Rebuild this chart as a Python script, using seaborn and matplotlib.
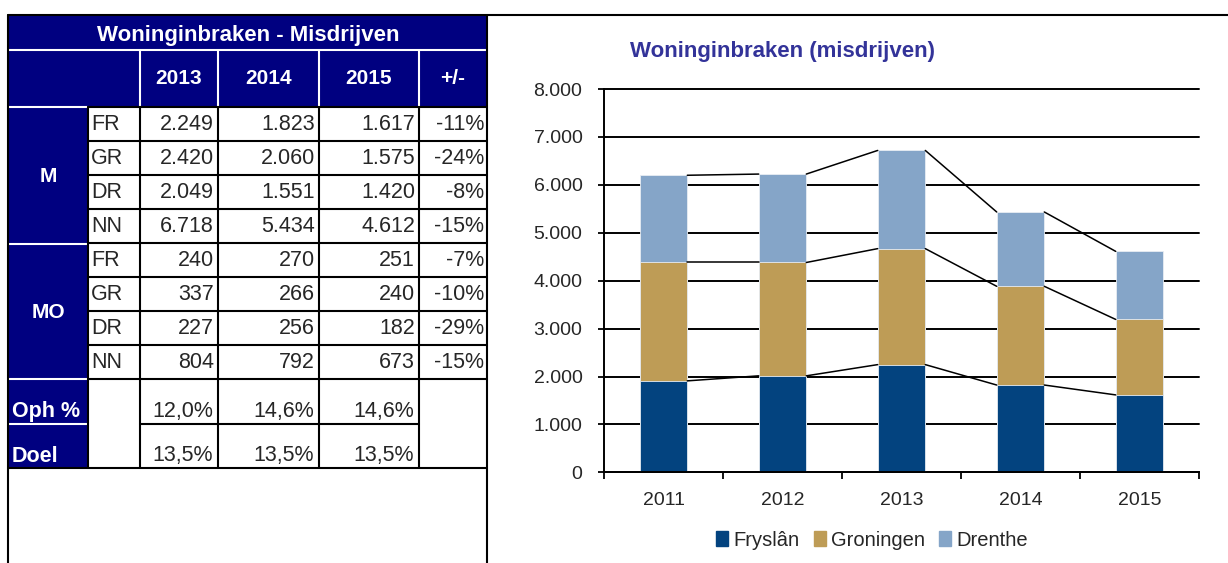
import pandas as pd
import matplotlib
matplotlib.use("Agg")
import matplotlib.pyplot as plt
from matplotlib.patches import Rectangle, Patch
import seaborn as sns

# --- grafiek: woninginbraken per provincie ---
years = ["2011", "2012", "2013", "2014", "2015"]
fryslan = [1910, 2015, 2249, 1823, 1617]
groningen = [2470, 2365, 2420, 2060, 1575]
drenthe = [1820, 1845, 2049, 1551, 1420]
series_names = ["Fryslân", "Groningen", "Drenthe"]

# --- tabel ---
table_title = "Woninginbraken - Misdrijven"
table_years = ["2013", "2014", "2015"]
regions = ["FR", "GR", "DR", "NN"]
m_values = [[2249, 1823, 1617], [2420, 2060, 1575], [2049, 1551, 1420], [6718, 5434, 4612]]
m_change = ["-11%", "-24%", "-8%", "-15%"]
mo_values = [[240, 270, 251], [337, 266, 240], [227, 256, 182], [804, 792, 673]]
mo_change = ["-7%", "-10%", "-29%", "-15%"]
oph = ["12,0%", "14,6%", "14,6%"]
doel = ["13,5%", "13,5%", "13,5%"]

NAVY = "#000080"
C_FR, C_GR, C_DR = "#03437F", "#BE9C56", "#85A5C8"


def nl(n):
    return f"{n:,}".replace(",", ".")


sns.set_theme(style="white")
plt.rcParams["font.family"] = ["Liberation Sans", "DejaVu Sans"]

fig = plt.figure(figsize=(12.28, 5.63), dpi=100)

# 1. TABEL (in pixelcoordinaten)
tab = fig.add_axes([0, 0, 1, 1])
tab.set_xlim(0, 1228)
tab.set_ylim(563, 0)
tab.axis("off")

xs = [8, 88, 140, 218, 319, 419, 487]
ys = [107 + i * 34 for i in range(9)]
lw = 1.5

tab.add_patch(Rectangle((8, 15), 479, 92, color=NAVY, lw=0))
tab.add_patch(Rectangle((8, 107), 80, 361, color=NAVY, lw=0))

# witte lijnen in de kop
tab.plot([8, 487], [50, 50], color="white", lw=lw)
for x in xs[2:6]:
    tab.plot([x, x], [50, 107], color="white", lw=lw)
for y in [107, 244, 379, 424]:
    tab.plot([8, 88], [y, y], color="white", lw=lw)

# zwarte rasterlijnen
for y in ys:
    tab.plot([88, 487], [y, y], color="black", lw=lw)
tab.plot([140, 419], [424, 424], color="black", lw=lw)
tab.plot([8, 487], [468, 468], color="black", lw=lw)
for x in xs[1:6]:
    tab.plot([x, x], [107, 468], color="black", lw=lw)
tab.plot([8, 8], [15, 563], color="black", lw=lw)
tab.plot([487, 487], [15, 563], color="black", lw=lw)
tab.plot([8, 1228], [15, 15], color="black", lw=lw)

fs = 15.5
tab.text(248, 35, table_title, color="white", fontsize=16, weight="bold", ha="center", va="center")
for i, yr in enumerate(table_years):
    tab.text((xs[i + 2] + xs[i + 3]) / 2, 79, yr, color="white", fontsize=15, weight="bold",
             ha="center", va="center")
tab.text((xs[5] + xs[6]) / 2, 79, "+/-", color="white", fontsize=15, weight="bold", ha="center", va="center")

blocks = [(m_values, m_change, "M"), (mo_values, mo_change, "MO")]
for b, (vals, chg, lab) in enumerate(blocks):
    y0 = ys[b * 4]
    tab.text(48, y0 + 69, lab, color="white", fontsize=15, weight="bold", ha="center", va="center")
    for r in range(4):
        yc = y0 + r * 34 + 18
        tab.text(91, yc, regions[r], fontsize=fs, ha="left", va="center")
        for c in range(3):
            tab.text(xs[c + 3] - 4, yc, nl(vals[r][c]), fontsize=fs, ha="right", va="center")
        tab.text(484, yc, chg[r], fontsize=fs, ha="right", va="center")

tab.text(12, 411, "Oph %", color="white", fontsize=15.5, weight="bold", ha="left", va="center")
tab.text(12, 456, "Doel", color="white", fontsize=15.5, weight="bold", ha="left", va="center")
for c in range(3):
    tab.text(xs[c + 3] - 5, 411, oph[c], fontsize=fs, ha="right", va="center")
    tab.text(xs[c + 3] - 5, 456, doel[c], fontsize=fs, ha="right", va="center")

# 2. GESTAPELDE STAAFGRAFIEK
df = pd.DataFrame({"jaar": years, "FR": fryslan, "GR": groningen, "DR": drenthe})
df["c1"] = df["FR"]
df["c2"] = df["FR"] + df["GR"]
df["c3"] = df["c2"] + df["DR"]

ax = fig.add_axes([604 / 1228, (563 - 472.4) / 563, 595 / 1228, 383.4 / 563])
ax.set_axisbelow(True)
for col, colr in [("c3", C_DR), ("c2", C_GR), ("c1", C_FR)]:
    sns.barplot(data=df, x="jaar", y=col, color=colr, width=0.4, saturation=1,
                errorbar=None, edgecolor="#e8edf3", linewidth=0.6, ax=ax)

# verbindingslijnen tussen de staven
for col in ["c1", "c2", "c3"]:
    v = df[col].values
    for i in range(len(v) - 1):
        ax.plot([i + 0.2, i + 0.8], [v[i], v[i + 1]], color="black", lw=1.1, zorder=3)

ax.set_ylim(0, 8000)
ax.set_xlim(-0.5, len(years) - 0.5)
ax.set_yticks(range(0, 8001, 1000))
ax.set_yticklabels([nl(t) for t in range(0, 8001, 1000)], fontsize=14)
ax.set_xticks(range(len(years)))
ax.set_xticklabels(years, fontsize=14)
ax.set_xticks([i - 0.5 for i in range(len(years) + 1)], minor=True)
ax.tick_params(axis="x", which="major", length=0, pad=14)
ax.tick_params(axis="x", which="minor", length=5, width=1.3, color="black", direction="out", bottom=True)
ax.tick_params(axis="y", length=4.5, width=1.3, color="black", direction="out", left=True, pad=11)
ax.yaxis.grid(True, color="black", lw=1.4)
for gl in ax.get_ygridlines():
    gl.set_clip_on(False)
ax.xaxis.grid(False)
ax.set_xlabel("")
ax.set_ylabel("")
for s in ["top", "right"]:
    ax.spines[s].set_visible(False)
for s in ["left", "bottom"]:
    ax.spines[s].set_color("black")
    ax.spines[s].set_linewidth(1.4)

fig.text(783 / 1228, 1 - 52 / 563, "Woninginbraken (misdrijven)", color="#333399",
         fontsize=16, weight="bold", ha="center", va="center")

handles = [Patch(color=c) for c in [C_FR, C_GR, C_DR]]
fig.legend(handles, series_names, loc="center", bbox_to_anchor=(872 / 1228, 1 - 540 / 563),
           ncol=3, frameon=False, fontsize=14.5, handlelength=0.6, handleheight=0.7,
           handletextpad=0.25, columnspacing=0.7)

plt.savefig("out.png", dpi=100)
